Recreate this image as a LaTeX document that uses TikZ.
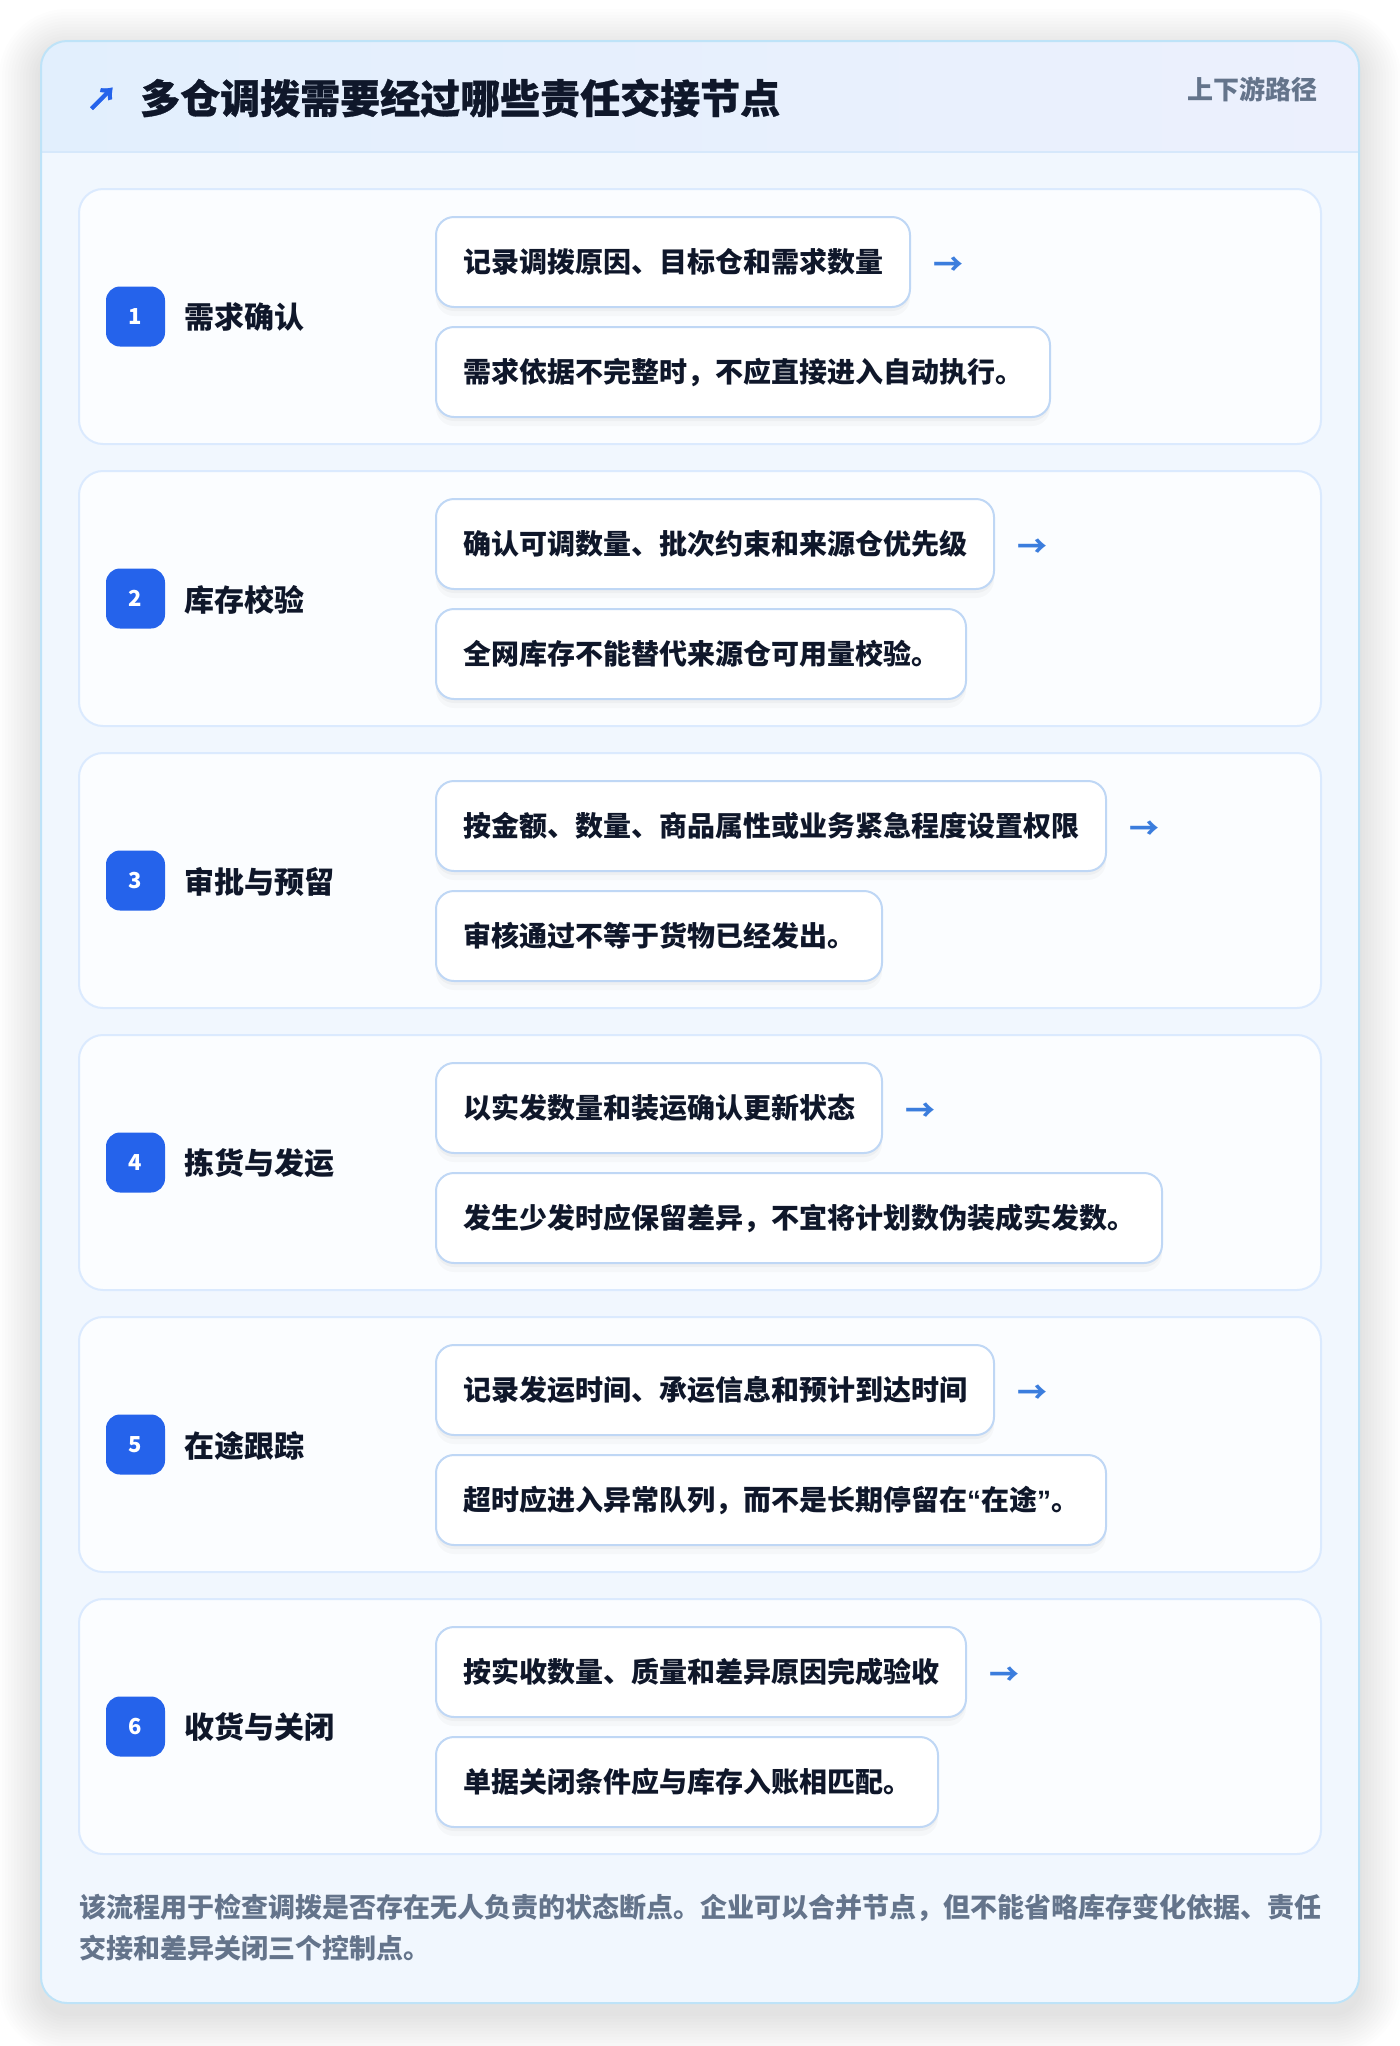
\documentclass[tikz,border=0pt]{standalone}
\usepackage{fontspec}
\setmainfont{Noto Sans CJK SC}
\newfontfamily\headfont{Noto Sans CJK SC}[BoldFeatures={FakeBold=0.7}]
\newfontfamily\quotefont{Liberation Sans}
\usetikzlibrary{calc,shadows}

\definecolor{ink}{HTML}{0F172A}
\definecolor{muted}{HTML}{64748B}
\definecolor{frameline}{HTML}{BEE3F8}
\definecolor{framefill}{HTML}{F1F7FE}
\definecolor{headleft}{HTML}{E2EFFD}
\definecolor{headright}{HTML}{ECF0FD}
\definecolor{headrule}{HTML}{D6E8FB}
\definecolor{cardline}{HTML}{DBEAFE}
\definecolor{cardfill}{HTML}{FBFDFF}
\definecolor{boxline}{HTML}{BFD7F5}
\definecolor{badgeblue}{HTML}{2563EB}
\definecolor{arrowblue}{HTML}{3B7DDD}

\newcommand{\openq}{{\quotefont“}}
\newcommand{\closeq}{{\quotefont”}}

\begin{document}
\begin{tikzpicture}[x=1pt,y=-1pt,
    stepcard/.style={draw=cardline,line width=2pt,fill=cardfill,rounded corners=24pt,
      minimum width=1242pt,minimum height=255pt,inner sep=0pt},
    badge/.style={fill=badgeblue,rounded corners=14pt,minimum width=59pt,minimum height=60pt,
      inner sep=0pt,text=white,font=\fontsize{22}{26}\selectfont\bfseries},
    steptitle/.style={anchor=west,inner sep=0pt,text=ink,font=\fontsize{30}{36}\selectfont\bfseries},
    itembox/.style={anchor=west,draw=boxline,line width=2pt,fill=white,rounded corners=18pt,
      minimum height=90pt,inner xsep=27pt,inner ysep=0pt,text=ink,
      font=\fontsize{28}{34}\selectfont\bfseries,
      drop shadow={shadow xshift=0pt,shadow yshift=-9pt,opacity=0.025,fill=black},
      drop shadow={shadow xshift=0pt,shadow yshift=-4pt,opacity=0.03,fill=black}},
    nextarrow/.style={anchor=west,inner sep=0pt,text=arrowblue,font=\fontsize{30}{34}\selectfont\bfseries}]
  \useasboundingbox (0,0) rectangle (1400,2046);
  \fill[white] (0,0) rectangle (1400,2046);

  % soft shadow round the frame
  \foreach \s in {3,6,...,42}
    \fill[black,opacity=0.007,rounded corners=26pt+\s pt] (41-\s,51-\s) rectangle (1359+\s,2013+\s);

  % frame and header band
  \fill[framefill,rounded corners=26pt] (41,41) rectangle (1359,2003);
  \begin{scope}
    \clip[rounded corners=26pt] (41,41) rectangle (1359,2003);
    \fill[left color=headleft,right color=headright] (41,41) rectangle (1359,152);
  \end{scope}
  \draw[headrule,line width=2pt] (41,152) -- (1359,152);
  \draw[frameline,line width=2pt,rounded corners=26pt] (41,41) rectangle (1359,2003);

  \node[text=badgeblue,inner sep=0pt,font=\fontsize{32}{36}\headfont\bfseries] (icon) at (102,99) {↗};
  \node[anchor=west,inner sep=0pt,text=ink,font=\fontsize{40}{48}\headfont\bfseries] (title) at (140,98)
    {多仓调拨需要经过哪些责任交接节点};
  \node[anchor=east,inner sep=0pt,text=muted,font=\fontsize{26}{30}\selectfont\bfseries] (tag) at (1318,89)
    {上下游路径};

  % steps
  \foreach \n/\ttl/\first/\second [evaluate=\n as \cy using 316.5+282*(\n-1)] in {
      1/需求确认/记录调拨原因、目标仓和需求数量/需求依据不完整时，不应直接进入自动执行。,
      2/库存校验/确认可调数量、批次约束和来源仓优先级/全网库存不能替代来源仓可用量校验。,
      3/审批与预留/按金额、数量、商品属性或业务紧急程度设置权限/审核通过不等于货物已经发出。,
      4/拣货与发运/以实发数量和装运确认更新状态/发生少发时应保留差异，不宜将计划数伪装成实发数。,
      5/在途跟踪/记录发运时间、承运信息和预计到达时间/超时应进入异常队列，而不是长期停留在\openq 在途\closeq 。,
      6/收货与关闭/按实收数量、质量和差异原因完成验收/单据关闭条件应与库存入账相匹配。} {
    \node[stepcard] (card\n) at (700,\cy) {};
    \node[badge] (badge\n) at (135.5,\cy) {\n};
    \node[steptitle] (name\n) at ($(badge\n.east)+(19,1)$) {\ttl};
    \node[itembox] (act\n) at (435,\cy-54.5) {\first};
    \node[itembox] (note\n) at (435,\cy+55.5) {\second};
    \node[nextarrow] (arr\n) at ($(act\n.east)+(22,4)$) {→};
  }

  % closing remark
  \node[anchor=base west,inner sep=0pt,text=muted,font=\fontsize{27}{41}\selectfont\bfseries] (remark1) at (79,1917)
    {该流程用于检查调拨是否存在无人负责的状态断点。企业可以合并节点，但不能省略库存变化依据、责任};
  \node[anchor=base west,inner sep=0pt,text=muted,font=\fontsize{27}{41}\selectfont\bfseries] (remark2) at (79,1958)
    {交接和差异关闭三个控制点。};
\end{tikzpicture}
\end{document}
